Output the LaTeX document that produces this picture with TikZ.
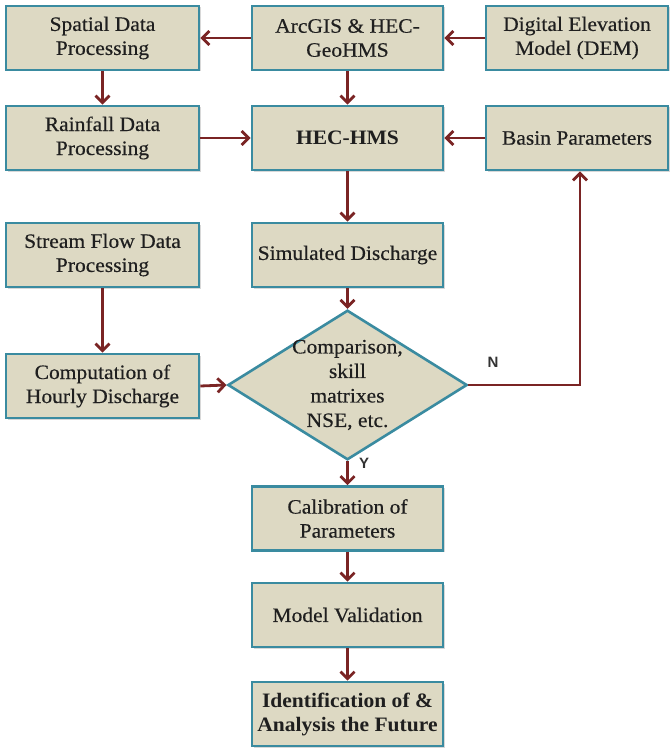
\documentclass[tikz,border=0pt]{standalone}
\usepackage{fontspec}
\setmainfont{Liberation Serif}[FakeStretch=1.05, UprightFeatures={FakeBold=0.4}]
\newfontfamily\labfont{Liberation Sans}
\usetikzlibrary{shapes.geometric,arrows.meta,shadows}
\definecolor{boxfill}{HTML}{DDD9C3}
\definecolor{boxline}{HTML}{3A8BA0}
\definecolor{arrowred}{HTML}{7A2424}
\begin{document}
\begin{tikzpicture}[x=1pt,y=-1pt,
  box/.style={draw=boxline, line width=2.6pt, fill=boxfill, align=center,
    inner sep=2pt, minimum height=64pt, text=black!88,
    font=\fontsize{20.5}{24}\selectfont,
    drop shadow={opacity=0.3, shadow xshift=1.5pt, shadow yshift=-1.5pt}},
  lbox/.style={box, minimum width=193pt},
  mbox/.style={box, minimum width=191pt},
  rbox/.style={box, minimum width=182pt},
  decision/.style={diamond, draw=boxline, line width=2.6pt, fill=boxfill,
    align=center, shape aspect=1.6, inner xsep=-3pt, inner ysep=-3pt,
    text=black!88, font=\fontsize{20.5}{24.5}\selectfont},
  conn/.style={draw=arrowred, line width=2.8pt,
    -{Straight Barb[length=7pt,width=14pt]}},
  lab/.style={font=\labfont\bfseries\fontsize{15}{17}\selectfont, text=black!80}
]
\fill[white] (0,0) rectangle (671,749);
\useasboundingbox (0,0) rectangle (671,749);

\node[lbox] (spatial) at (102.5,38) {Spatial Data\\Processing};
\node[mbox] (arcgis) at (347.5,38) {ArcGIS \& HEC-\\GeoHMS};
\node[rbox] (dem) at (577,38) {Digital Elevation\\Model (DEM)};

\node[lbox] (rain) at (102.5,138) {Rainfall Data\\Processing};
\node[mbox] (hec) at (347.5,138) {\textbf{HEC-HMS}};
\node[rbox] (basin) at (577,138) {Basin Parameters};

\node[lbox] (stream) at (102.5,255) {Stream Flow Data\\Processing};
\node[mbox] (sim) at (347.5,255) {Simulated Discharge};

\node[lbox] (comp) at (102.5,386) {Computation of\\Hourly Discharge};
\node[decision] (cmp) at (347.5,385) {Comparison,\\skill\\matrixes\\NSE, etc.};

\node[mbox] (calib) at (347.5,518.5) {Calibration of\\Parameters};
\node[mbox] (valid) at (347.5,615) {Model Validation};
\node[mbox] (ident) at (347.5,714) {\textbf{Identification of \&}\\\textbf{Analysis the Future}};

\draw[conn] (arcgis.west) -- (spatial.east);
\draw[conn] (dem.west) -- (arcgis.east);
\draw[conn] (spatial.south) -- (rain.north);
\draw[conn] (arcgis.south) -- (hec.north);
\draw[conn] (rain.east) -- (hec.west);
\draw[conn] (basin.west) -- (hec.east);
\draw[conn] (hec.south) -- (sim.north);
\draw[conn] (sim.south) -- (cmp.north);
\draw[conn] (stream.south) -- (comp.north);
\draw[conn] (comp.east) -- (cmp.west);
\draw[conn] (cmp.east) -| ([xshift=3pt]basin.south);
\draw[conn] (cmp.south) -- (calib.north);
\draw[conn] (calib.south) -- (valid.north);
\draw[conn] (valid.south) -- (ident.north);

\node[lab] (nlab) at (493,362) {N};
\node[lab] (ylab) at (364,463) {Y};
\end{tikzpicture}
\end{document}
